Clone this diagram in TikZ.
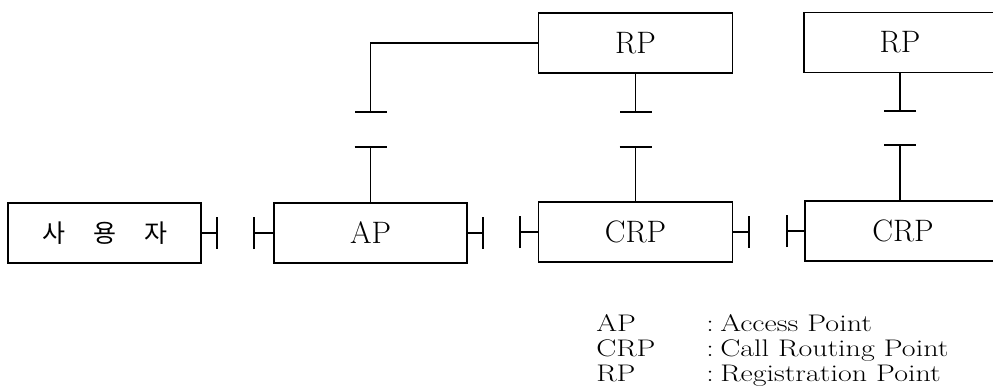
\documentclass[tikz,border=0pt]{standalone}
\usepackage{fontspec}
\newfontfamily\kofont{Noto Sans CJK KR}
\usetikzlibrary{arrows.meta}
\tikzset{
  box/.style={draw, line width=1.6pt, minimum width=193pt, minimum height=60pt,
    inner sep=0pt, font=\fontsize{31}{31}\selectfont},
  link/.style={line width=1.6pt, -{Bar[width=32pt,line width=1.6pt]}},
  leg/.style={anchor=base west, inner sep=0pt, font=\fontsize{24}{24}\selectfont, xscale=1.25},
}
\begin{document}
\begin{tikzpicture}[x=1pt,y=-1pt]
  \useasboundingbox (0,0) rectangle (993,388);
  \clip (0,0) rectangle (993,388);

  % lower row: user, access point, call routing points
  \node[box] (user) at (104.5,233) {\kofont\fontsize{25}{25}\selectfont 사\hspace{28pt}용\hspace{28pt}자};
  \node[box] (AP)   at (370.5,233) {AP};
  \node[box, minimum width=194pt] (CRP1) at (635.5,232) {CRP};
  \node[box, minimum width=196pt] (CRP2) at (903,231) {};
  \node at (903,231) [font=\fontsize{31}{31}\selectfont] (CRP2t) {CRP};

  % upper row: registration points
  \node[box, minimum width=194pt] (RP1) at (635.5,43) {RP};
  \node[box, minimum width=192pt] (RP2) at (900,42.5) {RP};

  % bar ends of the broken links
  \coordinate (u1) at (218,233);
  \coordinate (a0) at (253,233);
  \coordinate (a1) at (484,233);
  \coordinate (c0) at (519,232);
  \coordinate (c1) at (750,232);
  \coordinate (d0) at (786,231);
  \coordinate (t1) at (370.5,113);
  \coordinate (t2) at (370.5,146);
  \coordinate (r1) at (635.5,113);
  \coordinate (r2) at (635.5,146);
  \coordinate (s1) at (900,112);
  \coordinate (s2) at (900,144);

  % horizontal links
  \draw[link] (user.east) -- (u1);
  \draw[link] (AP.west) -- (a0);
  \draw[link] (AP.east) -- (a1);
  \draw[link] (CRP1.west) -- (c0);
  \draw[link] (CRP1.east) -- (c1);
  \draw[link] (CRP2.west) -- (d0);

  % vertical links
  \draw[link] (RP1.west) -| (t1);
  \draw[link] (AP.north) -- (t2);
  \draw[link] (RP1.south) -- (r1);
  \draw[link] (CRP1.north) -- (r2);
  \draw[link] (RP2.south) -- (s1);
  \draw[link] (CRP2.north -| s2) -- (s2);

  % legend
  \node[leg] (kAP)  at (596,331) {AP};
  \node[leg] (kCRP) at (596,356) {CRP};
  \node[leg] (kRP)  at (596,381) {RP};
  \node[leg] (cAP)  at (706,331) {:};
  \node[leg] (cCRP) at (706,356) {:};
  \node[leg] (cRP)  at (706,381) {:};
  \node[leg] (dAP)  at (720,331) {Access Point};
  \node[leg] (dCRP) at (720,356) {Call Routing Point};
  \node[leg] (dRP)  at (720,381) {Registration Point};
\end{tikzpicture}
\end{document}
